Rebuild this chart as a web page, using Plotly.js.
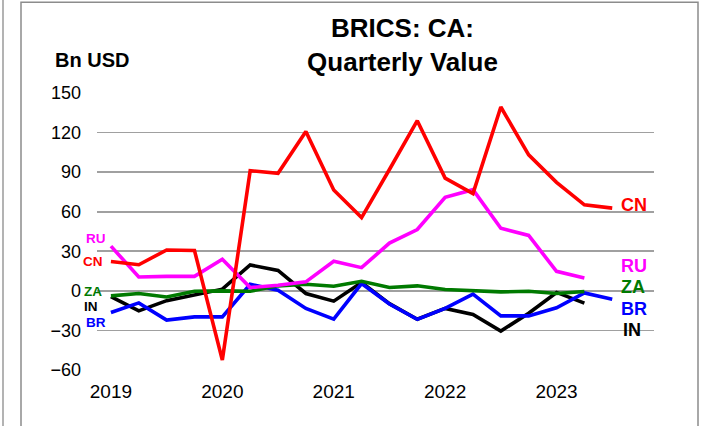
<!DOCTYPE html>
<html>
<head>
<meta charset="utf-8">
<script src="https://cdn.plot.ly/plotly-3.0.1.min.js"></script>
<style>html,body{margin:0;padding:0;background:#fff;}#chart{width:709px;height:426px;}</style>
</head>
<body>
<div id="chart"></div>
<script>
var quarters = ["2019Q1","2019Q2","2019Q3","2019Q4","2020Q1","2020Q2","2020Q3","2020Q4",
  "2021Q1","2021Q2","2021Q3","2021Q4","2022Q1","2022Q2","2022Q3","2022Q4",
  "2023Q1","2023Q2","2023Q3","2023Q4"];
var yearTicks = ["2019Q1","2020Q1","2021Q1","2022Q1","2023Q1"];
var yearLabels = ["2019","2020","2021","2022","2023"];

var cn = [22.3, 19.8, 31, 30.6, -52.5, 91.1, 89.1, 120.8, 76.5, 55.5, 92, 129, 85.5, 73.7, 139.4, 103.1, 82.3, 65.2, 62.7];
var ru = [33.9, 10.5, 11, 11, 23.9, 2.5, 4.3, 6.8, 22.4, 17.6, 36.2, 46.5, 70.9, 76.7, 47.5, 42, 14.8, 9.8];
var inn = [-4.3, -15.2, -7.4, -2.8, 1.3, 19.6, 15.5, -2, -7.8, 6.3, -9.7, -21.5, -13.3, -17.9, -30.5, -17, -1.2, -9.3];
var br = [-16.4, -9.1, -22.2, -19.7, -19.7, 5, 0.5, -13.3, -21.4, 5.5, -10, -21.6, -13.3, -2.5, -19, -19, -12.8, -1.6, -6.3];
var za = [-3.8, -2, -4.6, -0.3, 0, -0.3, 3.8, 5, 3.5, 7.3, 2.5, 3.8, 1, 0, -0.8, -0.3, -2, -0.5];

var seriesNames = ["IN", "BR", "ZA", "RU", "CN"];
var seriesData = [inn, br, za, ru, cn];
var seriesColors = ["#000000", "#0000ff", "#007a00", "#ff00ff", "#ff0000"];

var W = 709, H = 426;
var mL = 97, mR = 55, mT = 92.5, mB = 56;
var pw = W - mL - mR, ph = H - mT - mB;
function px(x) { return (x - mL) / pw; }
function py(y) { return (H - mB - y) / ph; }

var traces = seriesNames.map(function (n, i) {
  return {
    type: "scatter", mode: "lines", name: n,
    x: quarters.slice(0, seriesData[i].length), y: seriesData[i],
    line: { color: seriesColors[i], width: 3.6 },
    hoverinfo: "x+y+name"
  };
});

var F = "Liberation Sans, Arial, sans-serif";
function lab(t, x, y, col, size, anchor) {
  return { text: "<b>" + t + "</b>", xref: "paper", yref: "paper", x: px(x), y: py(y),
    xanchor: anchor, yanchor: "middle", showarrow: false,
    font: { family: F, size: size, color: col } };
}

var annotations = [
  lab("Bn USD", 91.5, 59, "#000", 20, "center"),
  lab("CN", 619, 205, "#ff0000", 18, "left"),
  lab("RU", 619, 266, "#ff00ff", 18, "left"),
  lab("ZA", 619, 287, "#007a00", 18, "left"),
  lab("BR", 619, 309, "#0000ff", 18, "left"),
  lab("IN", 621, 330, "#000000", 18, "left"),
  lab("RU", 95.5, 238.5, "#ff00ff", 13.5, "center"),
  lab("CN", 93.3, 261, "#ff0000", 13.5, "center"),
  lab("ZA", 92.5, 291, "#007a00", 13.5, "center"),
  lab("IN", 91.3, 306, "#000000", 13.5, "center"),
  lab("BR", 95.8, 322, "#0000ff", 13.5, "center")
];

var shapes = [
  { type: "rect", xref: "paper", yref: "paper", x0: px(21), x1: px(698), y0: py(440), y1: py(1.5),
    line: { color: "#8c8c8c", width: 1.5 }, fillcolor: "rgba(0,0,0,0)", layer: "below" },
  { type: "line", xref: "paper", yref: "paper", x0: px(3), x1: px(3), y0: py(440), y1: py(-10),
    line: { color: "#9a9a9a", width: 1.5 }, layer: "below" }
];

var layout = {
  width: W, height: H,
  margin: { l: mL, r: mR, t: mT, b: mB, pad: 0 },
  paper_bgcolor: "#ffffff", plot_bgcolor: "#ffffff",
  showlegend: false,
  font: { family: F, color: "#000" },
  title: {
    text: "<b>BRICS: CA:<br>Quarterly Value</b>",
    font: { family: F, size: 26, color: "#000" },
    xref: "container", yref: "container",
    x: 402.5 / W, xanchor: "center",
    y: 1 - 37 / H, yanchor: "top"
  },
  xaxis: {
    type: "category", categoryorder: "array", categoryarray: quarters,
    range: [-0.5, 19.5],
    tickmode: "array", tickvals: yearTicks, ticktext: yearLabels,
    showgrid: false, zeroline: false, showline: false, ticks: "",
    ticklabelstandoff: 8,
    tickfont: { family: F, size: 19, color: "#000" }
  },
  yaxis: {
    range: [-60, 150], tickmode: "linear", tick0: -60, dtick: 30,
    showgrid: true, gridcolor: "#a0a0a0", gridwidth: 1.6,
    zeroline: false, showline: false, ticks: "",
    ticklabelstandoff: 15,
    tickfont: { family: F, size: 18, color: "#000" }
  },
  annotations: annotations,
  shapes: shapes
};

Plotly.newPlot("chart", traces, layout, { displayModeBar: false, staticPlot: true });
</script>
</body>
</html>
